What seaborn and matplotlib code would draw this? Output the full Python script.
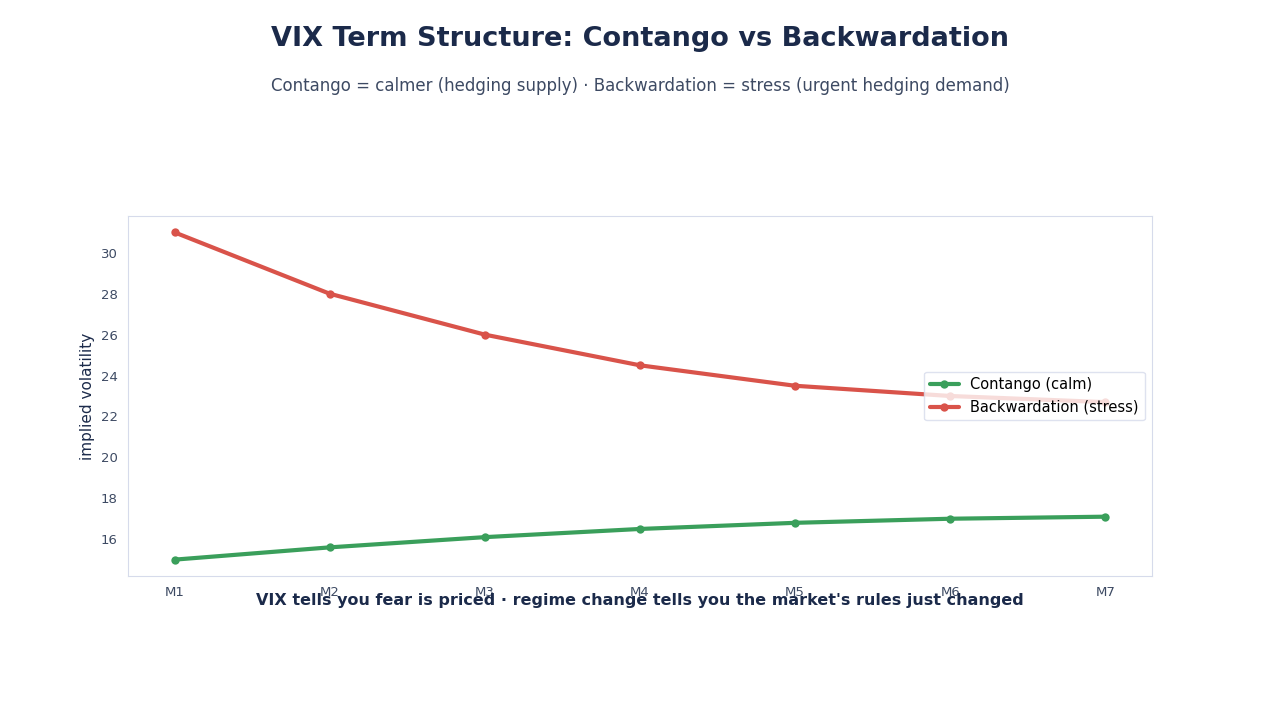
import numpy as np
import pandas as pd
import matplotlib.pyplot as plt
import seaborn as sns

# term structure points (months out)
months = ["M1", "M2", "M3", "M4", "M5", "M6", "M7"]
contango = [15.0, 15.6, 16.1, 16.5, 16.8, 17.0, 17.1]
backwardation = [31.0, 28.0, 26.0, 24.5, 23.5, 23.0, 22.7]
series_names = ["Contango (calm)", "Backwardation (stress)"]

df = pd.DataFrame({
    "month": months * 2,
    "pos": list(range(len(months))) * 2,
    "vol": contango + backwardation,
    "regime": [series_names[0]] * len(months) + [series_names[1]] * len(months),
})

sns.set_style("white")
plt.rcParams['font.family'] = ['DejaVu Sans']

navy = "#1b2a4a"
slate = "#3d4a63"
edge = "#d6dbeb"

fig = plt.figure(figsize=(12.8, 7.2), dpi=100)
ax = fig.add_axes([0.1, 0.2, 0.8, 0.5])

sns.lineplot(data=df, x="pos", y="vol", hue="regime", hue_order=series_names,
             palette=["#3a9f5b", "#d9534a"], marker="o", markersize=6,
             markeredgewidth=0, linewidth=3, ax=ax)

ax.set_xticks(range(len(months)))
ax.set_xticklabels(months)
ax.set_xlabel("")
ax.set_ylabel("implied volatility", fontsize=11, color=navy)
ax.tick_params(axis="both", colors=slate, labelsize=9.5, length=4, width=0.8)
for s in ax.spines.values():
    s.set_color(edge)
    s.set_linewidth(0.8)

leg = ax.legend(loc="center right", fontsize=10.5, frameon=True,
                handlelength=2, labelcolor="black")
leg.get_frame().set_edgecolor(edge)

fig.text(0.5, 0.946, "VIX Term Structure: Contango vs Backwardation",
         ha="center", va="center", fontsize=19.5, fontweight="bold", color=navy)
fig.text(0.5, 0.881,
         "Contango = calmer (hedging supply) \u00b7 Backwardation = stress (urgent hedging demand)",
         ha="center", va="center", fontsize=12, color=slate)
fig.text(0.5, 0.166,
         "VIX tells you fear is priced \u00b7 regime change tells you the market's rules just changed",
         ha="center", va="center", fontsize=11.5, fontweight="bold", color=navy)

fig.savefig("out.png", dpi=100)
